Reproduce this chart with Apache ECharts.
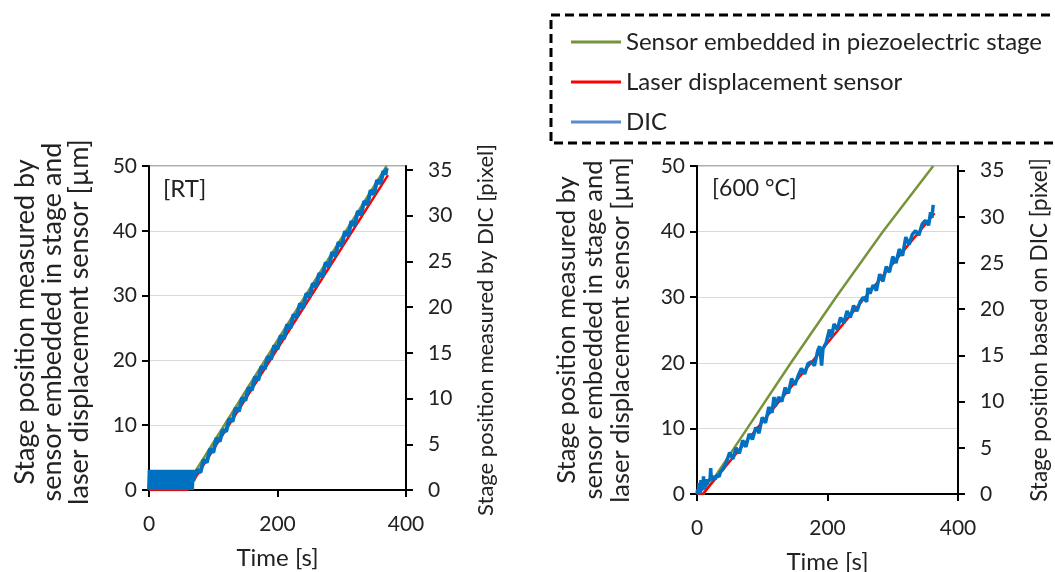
<!DOCTYPE html>
<html>
<head>
<meta charset="utf-8">
<script src="https://cdn.jsdelivr.net/npm/echarts@6/dist/echarts.min.js"></script>
<style>
  html, body { margin: 0; padding: 0; background: #fff; }
  #main { width: 1055px; height: 572px; }
</style>
</head>
<body>
<div id="main"></div>
<script>
"use strict";

// 系列名 / 轴刻度
var seriesNames = ["Sensor embedded in piezoelectric stage", "Laser displacement sensor", "DIC"];
var timeTicks = [0, 200, 400];
var umTicks = [0, 10, 20, 30, 40, 50];
var pixelTicks = [0, 5, 10, 15, 20, 25, 30, 35];

// [RT] 左图
var rtSensorTime = [0, 54, 370];
var rtSensorUm = [0, 0, 50];
var rtLaserTime = [0, 60, 372];
var rtLaserUm = [0, 0, 48.6];
var rtDicTime = [0, 1, 2, 3, 4, 5, 6, 7, 8, 9, 10, 11, 12, 13, 14, 15, 16, 17, 18, 19,
    20, 21, 22, 23, 24, 25, 26, 27, 28, 29, 30, 31, 32, 33, 34, 35, 36, 37, 38, 39,
    40, 41, 42, 43, 44, 45, 46, 47, 48, 49, 50, 51, 52, 53, 54, 55, 56, 57, 58, 59,
    60, 61, 62, 63, 64, 65, 66, 67, 68, 69,
    70, 75, 80, 85, 90, 95, 100, 105, 110, 115, 120, 125, 130, 135, 140, 145, 150,
    155, 160, 165, 170, 175, 180, 185, 190, 195, 200, 205, 210, 215, 220, 225, 230,
    235, 240, 245, 250, 255, 260, 265, 270, 275, 280, 285, 290, 295, 300, 305, 310,
    315, 320, 325, 330, 335, 340, 345, 350, 355, 360, 365, 368, 370];
var rtDicPx = [0, 2.2, 0, 2.2, 0, 2.2, 0, 2.2, 0, 0, 0, 0, 2.2, 0, 2.2, 0, 2.2, 0, 2.2, 0,
    0, 0, 2.2, 0, 2.2, 0, 2.2, 0, 2.2, 0, 0, 0, 0, 2.2, 0, 2.2, 0, 2.2, 0, 2.2,
    0, 0, 0, 2.2, 0, 2.2, 0, 2.2, 0, 2.2, 0, 0, 0, 0, 2.2, 0, 2.2, 0, 2.2, 0,
    2.2, 0, 2.2, 0, 0, 0, 2.2, 0, 2.2, 1.0,
    1.4, 2.2, 1.9, 3.3, 3.0, 4.5, 4.1, 5.7, 5.3, 6.6, 6.4, 7.8, 7.5, 9.0, 8.6, 10.1, 9.8,
    11.2, 10.9, 12.4, 12.0, 13.5, 13.2, 14.6, 14.3, 15.8, 15.4, 16.9, 16.5, 18.1, 17.7, 19.2, 18.9,
    20.4, 19.9, 21.5, 21.1, 22.6, 22.2, 23.7, 23.3, 24.9, 24.4, 26.0, 25.6, 27.1, 26.7, 28.3, 27.8,
    29.4, 28.9, 30.5, 30.1, 31.6, 31.2, 32.8, 32.3, 33.9, 33.5, 34.9, 34.5, 35.2];

// [600 °C] 右图
var htSensorTime = [0, 10, 77, 144, 213, 285, 362];
var htSensorUm = [0, 0, 10, 20, 30, 40, 50];
var htLaserTime = [0, 9, 364];
var htLaserUm = [0, 0, 42.8];
var htDicTime = [0, 1, 2, 3, 4, 5, 6, 7, 8, 9, 10, 11, 12, 13, 14, 15, 16, 18, 20, 21,
    22, 24, 26, 28, 30, 32, 34, 36, 38, 40,
    45, 50, 55, 60, 65, 70, 75, 80, 85, 90, 95, 100, 105, 110, 115, 118, 120, 125, 130,
    135, 140, 145, 150, 155, 160, 165, 170, 175, 180, 185, 188, 191, 193, 198, 203,
    206, 210, 215, 220, 225, 230, 235, 240, 245, 250, 255, 260, 262, 265, 270, 275, 280,
    285, 290, 295, 300, 305, 310, 315, 320, 325, 330, 335, 340, 345, 350, 355, 358,
    360, 362];
var htDicPx = [0, 0.5, 0, 1.2, 0.3, 0, 1.5, 0.4, 0.2, 0.8, 1.9, 0.5, 1.0, 0.7, 1.6, 1.0, 1.3, 1.1, 1.6, 2.8,
    1.5, 1.9, 2.1, 1.6, 2.0, 1.8, 1.9, 2.4, 2.2, 2.7,
    3.4, 4.5, 3.8, 5.0, 4.4, 5.8, 5.1, 6.5, 5.9, 7.2, 6.6, 8.3, 7.7, 9.4, 8.8, 10.5, 9.5, 10.5, 10.0,
    11.5, 10.9, 12.5, 11.8, 12.8, 13.6, 13.0, 14.1, 14.3, 13.9, 15.5, 16.0, 13.9, 15.7, 16.4, 17.8,
    16.9, 18.4, 17.8, 19.1, 18.5, 19.8, 19.1, 20.4, 19.8, 20.8, 21.3, 20.8, 22.3, 21.7, 22.6, 22.0, 23.8,
    23.0, 24.6, 24.0, 25.7, 25.0, 26.5, 25.8, 27.8, 27.0, 28.1, 28.5, 28.0, 29.2, 29.6, 29.1, 30.5,
    29.9, 31.3];

var FONT = "Lato";
var TXT = "#222";
var colors = { sensor: "#77933C", laser: "#FF0000", dic: "#0070C0", dicLegend: "#5B8BC9" };

function pairs(xs, ys) {
    var out = [];
    for (var i = 0; i < xs.length; i++) {
        out.push([xs[i], ys[i]]);
    }
    return out;
}

var grids = [
    { left: 149, top: 166, width: 257, height: 324 },
    { left: 697, top: 166, width: 261, height: 328 }
];

function xAxisFor(i) {
    return {
        type: "value", gridIndex: i, min: 0, max: 400, interval: 200,
        axisLine: { lineStyle: { color: "#000", width: 2 } },
        axisTick: { length: 7, lineStyle: { color: "#000", width: 2 } },
        axisLabel: { margin: 24, fontSize: 21, color: TXT, fontFamily: FONT },
        splitLine: { show: false },
        name: "Time [s]", nameLocation: "middle", nameGap: 56,
        nameTextStyle: { fontSize: 24, color: TXT, fontFamily: FONT }
    };
}

function umAxisFor(i) {
    return {
        type: "value", gridIndex: i, position: "left", min: 0, max: 50, interval: 10,
        axisLine: { show: true, lineStyle: { color: "#000", width: 2 } },
        axisTick: { show: true, length: 7, lineStyle: { color: "#000", width: 2 } },
        axisLabel: { margin: 12, fontSize: 21, color: TXT, fontFamily: FONT },
        splitLine: { show: true, lineStyle: { color: "#D9D9D9", width: 1 } }
    };
}

function pxAxisFor(i, top) {
    return {
        type: "value", gridIndex: i, position: "right", min: 0, max: top,
        axisLine: { show: true, lineStyle: { color: "#000", width: 2 } },
        axisTick: { show: true, length: 7, customValues: pixelTicks, lineStyle: { color: "#000", width: 2 } },
        axisLabel: { margin: 22, fontSize: 21, color: TXT, fontFamily: FONT, customValues: pixelTicks },
        splitLine: { show: false }
    };
}

function lineSeries(name, data, xi, yi, color, width, z) {
    return {
        name: name, type: "line", data: data,
        xAxisIndex: xi, yAxisIndex: yi,
        showSymbol: false, symbol: "none", z: z,
        lineStyle: { color: color, width: width },
        itemStyle: { color: color }
    };
}

function rotated(text, x, y, size) {
    return {
        type: "text", x: x, y: y, rotation: Math.PI / 2,
        style: {
            text: text, fill: TXT, fontSize: size, fontFamily: FONT,
            align: "center", verticalAlign: "middle", lineHeight: 27
        }
    };
}

var yName = "Stage position measured by\nsensor embedded in stage and\nlaser displacement sensor [µm]";

var myChart = echarts.init(document.getElementById("main"));

var option = {
    backgroundColor: "#fff",
    animation: false,
    grid: grids.map(function (g) {
        return { left: g.left, top: g.top, width: g.width, height: g.height,
            outerBoundsMode: "none", containLabel: false,
            show: true, borderColor: "#595959", borderWidth: 1 };
    }),
    xAxis: [xAxisFor(0), xAxisFor(1)],
    yAxis: [umAxisFor(0), pxAxisFor(0, 35.44), umAxisFor(1), pxAxisFor(1, 35.5)],
    legend: {
        orient: "vertical", left: 566, top: 23,
        itemWidth: 50, itemHeight: 3, itemGap: 12,
        textStyle: { fontSize: 24, color: TXT, fontFamily: FONT, lineHeight: 28 },
        data: [
            { name: seriesNames[0], icon: "rect", itemStyle: { color: colors.sensor } },
            { name: seriesNames[1], icon: "rect", itemStyle: { color: colors.laser } },
            { name: seriesNames[2], icon: "rect", itemStyle: { color: colors.dicLegend } }
        ]
    },
    graphic: [
        {
            type: "rect", shape: { x: 551, y: 15, width: 530, height: 128 },
            style: { fill: "none", stroke: "#000", lineWidth: 3, lineDash: [9, 5] }
        },
        { type: "text", x: 163, y: 189, style: { text: "[RT]", fill: TXT, fontSize: 24, fontFamily: FONT, verticalAlign: "middle" } },
        { type: "text", x: 712, y: 189, style: { text: "[600 °C]", fill: TXT, fontSize: 23, fontFamily: FONT, verticalAlign: "middle" } },
        rotated(yName, 52, 322, 27),
        rotated("Stage position measured by DIC [pixel]", 486, 330, 22),
        rotated(yName, 594, 330, 25.5),
        rotated("Stage position based on DIC [pixel]", 1040, 330, 22.5)
    ],
    series: [
        lineSeries(seriesNames[0], pairs(rtSensorTime, rtSensorUm), 0, 0, colors.sensor, 2.5, 2),
        lineSeries(seriesNames[1], pairs(rtLaserTime, rtLaserUm), 0, 0, colors.laser, 2.5, 3),
        lineSeries(seriesNames[2], pairs(rtDicTime, rtDicPx), 0, 1, colors.dic, 4, 4),
        lineSeries(seriesNames[0], pairs(htSensorTime, htSensorUm), 1, 2, colors.sensor, 2.5, 2),
        lineSeries(seriesNames[1], pairs(htLaserTime, htLaserUm), 1, 2, colors.laser, 2.5, 3),
        lineSeries(seriesNames[2], pairs(htDicTime, htDicPx), 1, 3, colors.dic, 3.5, 4)
    ]
};

myChart.setOption(option);
</script>
</body>
</html>
